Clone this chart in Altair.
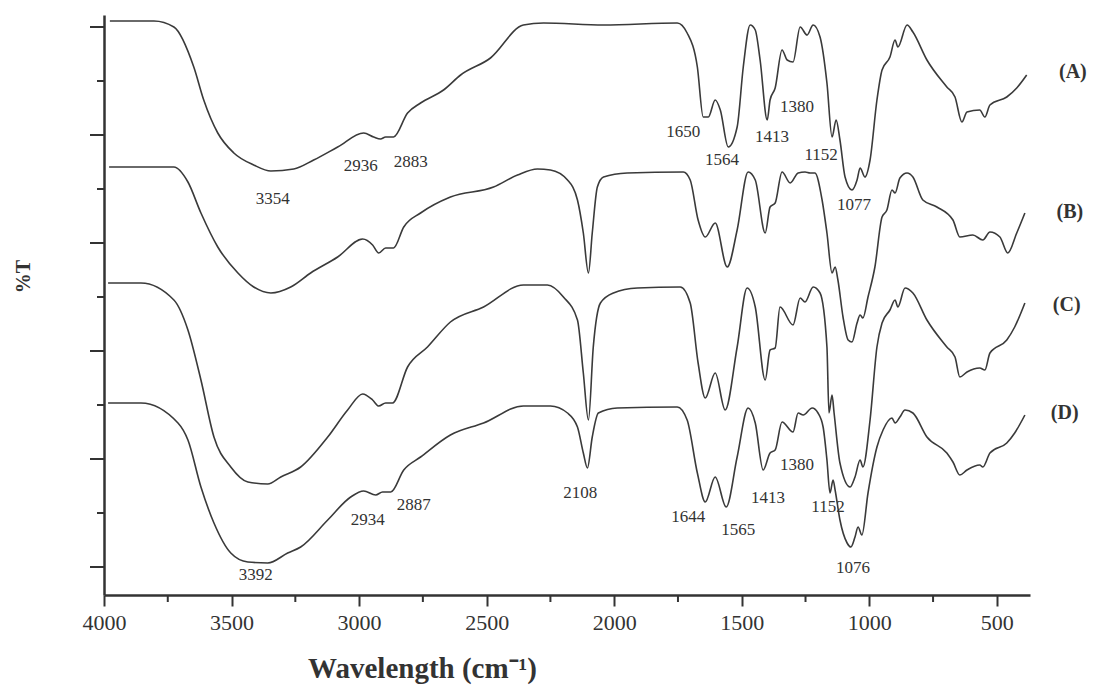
import altair as alt
import pandas as pd

# ---- spectra (wavenumber cm-1, offset %T) ----
a_wn = [3977, 3804, 3726, 3648, 3609, 3554, 3491, 3413, 3346, 3256, 3178, 3084, 2982, 2943, 2916, 2896, 2865, 2810, 2759, 2669, 2602, 2485, 2356, 2277, 2042, 1753, 1714, 1674, 1651, 1631, 1604, 1584, 1553, 1518, 1494, 1467, 1447, 1428, 1400, 1389, 1369, 1342, 1322, 1299, 1271, 1244, 1220, 1193, 1166, 1146, 1130, 1115, 1095, 1068, 1048, 1036, 1017, 997, 970, 950, 919, 899, 888, 852, 829, 774, 696, 664, 637, 617, 567, 547, 527, 461, 422, 383]
a_t = [574, 574, 568, 528, 495, 462, 442, 430, 424, 426, 435, 448, 462, 458, 456, 458, 458, 482, 492, 505, 520, 537, 570, 572, 570, 572, 562, 528, 478, 478, 495, 485, 448, 468, 528, 570, 565, 535, 475, 495, 507, 545, 535, 533, 568, 560, 570, 558, 512, 458, 475, 455, 418, 405, 415, 427, 418, 435, 495, 525, 538, 555, 548, 570, 563, 535, 508, 498, 473, 483, 485, 478, 490, 498, 507, 520]

b_wn = [3980, 3726, 3671, 3620, 3554, 3475, 3413, 3346, 3268, 3190, 3084, 2986, 2947, 2923, 2896, 2865, 2825, 2759, 2642, 2473, 2379, 2301, 2250, 2183, 2144, 2121, 2101, 2086, 2066, 2042, 1949, 1729, 1702, 1671, 1643, 1604, 1557, 1518, 1475, 1447, 1408, 1389, 1369, 1342, 1310, 1279, 1252, 1232, 1213, 1185, 1166, 1146, 1134, 1123, 1103, 1083, 1068, 1048, 1036, 1025, 1005, 978, 950, 931, 911, 899, 880, 852, 829, 790, 735, 672, 645, 594, 555, 527, 488, 457, 422, 390]
b_t = [428, 428, 413, 382, 348, 322, 308, 302, 308, 322, 338, 356, 350, 342, 347, 347, 368, 382, 398, 408, 420, 426, 425, 415, 395, 362, 322, 362, 408, 418, 422, 423, 415, 375, 358, 372, 328, 365, 423, 415, 362, 388, 392, 423, 412, 422, 423, 422, 422, 395, 362, 322, 328, 315, 278, 255, 253, 272, 280, 277, 298, 328, 378, 385, 405, 402, 417, 422, 418, 395, 388, 375, 358, 360, 355, 363, 358, 342, 362, 382]

c_wn = [3984, 3855, 3726, 3671, 3620, 3569, 3503, 3436, 3358, 3307, 3229, 3123, 3045, 2986, 2947, 2923, 2896, 2869, 2810, 2732, 2642, 2512, 2356, 2262, 2199, 2144, 2121, 2101, 2082, 2054, 2003, 1909, 1741, 1702, 1671, 1643, 1604, 1565, 1518, 1479, 1447, 1408, 1389, 1369, 1350, 1299, 1271, 1252, 1220, 1193, 1166, 1158, 1146, 1138, 1115, 1075, 1056, 1036, 1025, 997, 970, 950, 919, 899, 888, 860, 829, 774, 696, 664, 645, 617, 567, 547, 527, 461, 430, 390]
c_t = [312, 312, 295, 265, 215, 158, 128, 113, 111, 118, 128, 158, 185, 201, 195, 189, 192, 192, 228, 248, 273, 288, 310, 310, 298, 275, 222, 175, 248, 292, 302, 307, 308, 292, 232, 197, 222, 185, 248, 307, 288, 215, 245, 247, 288, 270, 297, 293, 308, 302, 248, 182, 200, 182, 132, 108, 118, 135, 128, 175, 248, 272, 285, 295, 288, 307, 302, 275, 248, 238, 218, 223, 227, 225, 242, 255, 268, 292]

d_wn = [3984, 3855, 3710, 3671, 3620, 3569, 3503, 3436, 3358, 3280, 3229, 3123, 3033, 2982, 2935, 2908, 2876, 2825, 2759, 2642, 2512, 2356, 2250, 2183, 2144, 2121, 2105, 2086, 2062, 1988, 1753, 1714, 1674, 1643, 1604, 1561, 1518, 1475, 1447, 1416, 1389, 1369, 1342, 1299, 1279, 1259, 1224, 1201, 1181, 1166, 1154, 1142, 1134, 1115, 1087, 1072, 1056, 1044, 1029, 1005, 970, 946, 911, 899, 880, 860, 829, 774, 696, 672, 645, 617, 567, 555, 527, 461, 430, 390]
d_t = [192, 192, 172, 155, 108, 72, 42, 33, 32, 42, 48, 75, 98, 104, 100, 103, 103, 125, 138, 160, 172, 189, 189, 182, 168, 142, 127, 158, 182, 187, 188, 175, 122, 93, 118, 88, 138, 187, 172, 125, 142, 145, 173, 163, 182, 180, 187, 182, 168, 135, 102, 115, 105, 75, 52, 48, 58, 68, 60, 102, 148, 165, 177, 172, 178, 185, 182, 158, 142, 133, 120, 125, 130, 128, 142, 152, 162, 180]

# ---- peak annotations ----
ann_text = ["3354", "2936", "2883", "1650", "1564", "1413", "1380", "1152", "1077",
            "3392", "2934", "2887", "2108", "1644", "1565", "1413", "1380", "1152", "1076"]
ann_wn = [3338, 2994, 2798, 1729, 1577, 1381, 1283, 1189, 1060,
          3405, 2966, 2786, 2133, 1710, 1514, 1397, 1283, 1162, 1064]
ann_t = [396, 429, 433, 463, 435, 458, 488, 440, 390,
         20, 75, 90, 102, 78, 65, 97, 130, 88, 27]

# ---- series labels ----
ser_text = ["(A)", "(B)", "(C)", "(D)"]
ser_wn = [202, 214, 226, 234]
ser_t = [523, 383, 290, 182]

# ---- axis ticks ----
x_major = [4000, 3500, 3000, 2500, 2000, 1500, 1000, 500]
x_minor = [3750, 3250, 2750, 2250, 1750, 1250, 750]
y_major = [28, 136, 244, 352, 460, 568]
y_minor = [82, 190, 298, 406, 514]

rows = []
for name, wn, t in [("A", a_wn, a_t), ("B", b_wn, b_t), ("C", c_wn, c_t), ("D", d_wn, d_t)]:
    for w, v in zip(wn, t):
        rows.append({"series": name, "wn": w, "t": v})
df = pd.DataFrame(rows)
ann_df = pd.DataFrame({"label": ann_text, "wn": ann_wn, "t": ann_t})
ser_df = pd.DataFrame({"label": ser_text, "wn": ser_wn, "t": ser_t})
xminor_df = pd.DataFrame({"wn": x_minor})
ymaj_df = pd.DataFrame({"t": y_major})
ymin_df = pd.DataFrame({"t": y_minor})

FONT = "Liberation Serif"
INK = "#333333"
xs = alt.Scale(domain=[4000, 370], nice=False, zero=False)
ys = alt.Scale(domain=[0, 580], nice=False, zero=False)

x_axis = alt.Axis(
    values=x_major, format="d", title="Wavelength (cm\u207b\u00b9)",
    grid=False, domainColor=INK, domainWidth=2.5, tickColor=INK, tickWidth=2,
    tickSize=11, labelFont=FONT, labelFontSize=22, labelColor=INK, labelPadding=6,
    labelFlush=False, titleFont=FONT, titleFontSize=29, titleFontWeight="bold",
    titleColor=INK, titleX=318, titleY=82, titleAlign="center",
    titleBaseline="alphabetic")
y_axis = alt.Axis(
    title="%T", ticks=False, labels=False, grid=False, domainColor=INK,
    domainWidth=2.5, titleFont=FONT, titleFontSize=20, titleFontWeight="bold",
    titleColor=INK, titleX=-81, titleY=261, titleAngle=270,
    titleAlign="center", titleBaseline="middle")

X = alt.X("wn:Q", scale=xs, axis=x_axis)
Y = alt.Y("t:Q", scale=ys, axis=y_axis)

lines = alt.Chart(df).mark_line(color="#3a3a3a", strokeWidth=1.6, interpolate="monotone").encode(
    x=X, y=Y, detail="series:N",
)

ann = alt.Chart(ann_df).mark_text(font=FONT, fontSize=17, color=INK).encode(
    x=X, y=Y, text="label:N",
)

sers = alt.Chart(ser_df).mark_text(font=FONT, fontSize=20, fontWeight="bold", color=INK).encode(
    x=X, y=Y, text="label:N",
)

xminor = alt.Chart(xminor_df).mark_rule(color=INK, strokeWidth=2).encode(
    x=X, y=alt.value(580), y2=alt.value(587),
)
ymaj = alt.Chart(ymaj_df).mark_rule(color=INK, strokeWidth=2).encode(
    y=Y, x=alt.value(-14), x2=alt.value(0),
)
ymin = alt.Chart(ymin_df).mark_rule(color=INK, strokeWidth=2).encode(
    y=Y, x=alt.value(-7), x2=alt.value(0),
)

chart = alt.layer(lines, ann, sers, xminor, ymaj, ymin).properties(
    width=926, height=580,
    padding={"left": 104, "top": 15, "right": 66, "bottom": 97},
    autosize="none",
    background="white",
).configure_view(stroke=None)

chart.save("out.html", embed_options={"renderer": "svg", "actions": False})
